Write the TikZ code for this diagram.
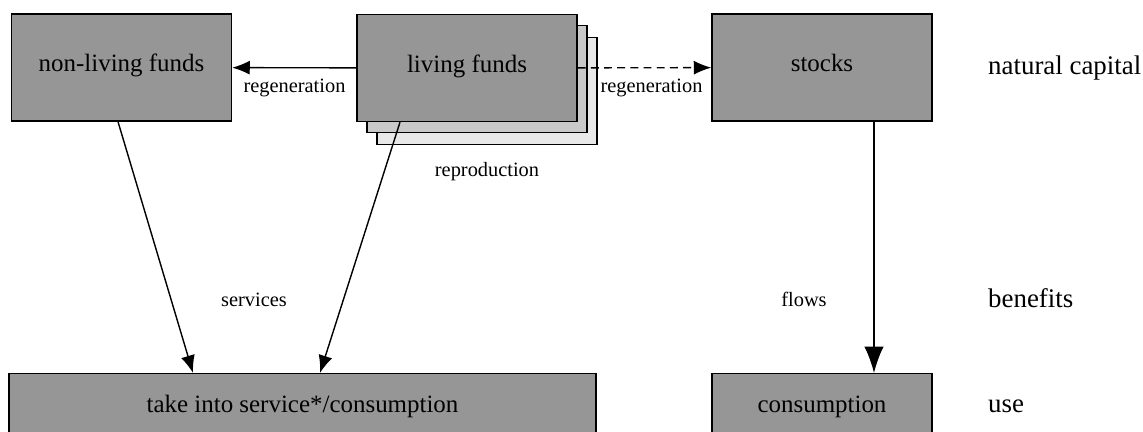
\documentclass[tikz,border=0pt]{standalone}
\usepackage{fontspec}
\setmainfont{Liberation Serif}
\usepackage{xcolor}
\usepackage{tikz}
\usetikzlibrary{arrows.meta,positioning,calc}

\definecolor{boxgray}{gray}{0.59}
\definecolor{shadegray}{gray}{0.79}
\definecolor{palegray}{gray}{0.91}

\begin{document}
\begin{tikzpicture}[
  x=0.02cm, y=-0.02cm,
  fund/.style={draw, line width=0.8pt, fill=boxgray, inner sep=0pt,
               minimum width=4.4cm, minimum height=2.14cm,
               font=\fontsize{14.2}{17}\selectfont,
               text height=0.7em, text depth=0.2em},
  sheet/.style={fund, fill=#1},
  usebox/.style={draw, line width=0.8pt, fill=boxgray, inner sep=0pt, anchor=north,
                 font=\fontsize{14.2}{17}\selectfont,
                 text height=0.78cm, text depth=2cm},
  small/.style={font=\fontsize{11.6}{14}\selectfont, anchor=base},
  level/.style={font=\fontsize{15.3}{18}\selectfont, anchor=base west},
  flow/.style={-{Latex[length=10pt, width=8pt]}, line width=0.8pt}
]
\path[use as bounding box, clip] (0,0) rectangle (1143,432);

% funds and stocks
\node[fund] (nonliv) at (121.5,67.5) {non-living funds};
\node[sheet=palegray] (liv3) at (487,91) {};
\node[sheet=shadegray] (liv2) at (477,79) {};
\node[fund] (liv) at (467,68) {living funds};
\node[fund] (stocks) at (822,67.5) {stocks};

% use
\node[usebox, minimum width=11.74cm] (take) at (302.5,373) {take into service*/consumption};
\node[usebox, minimum width=4.4cm] (cons) at (822,373) {consumption};

% connectors
\draw[flow] (liv) -- (nonliv);
\draw[flow, dash pattern=on 4.5pt off 3pt] (liv) -- (stocks);
\draw[flow] ($(nonliv.south)+(-3.5,0)$) -- ($(take.north)+(-109.5,0)$);
\draw[flow] ($(liv.south)+(-67,0)$) -- ($(take.north)+(17.5,0)$);
\draw[flow, -{Latex[length=15pt, width=11pt]}] ($(stocks.south)+(52,0)$) -- ($(cons.north)+(52,0)$);

% labels
\node[small] (regenl) at (294.5,93) {regeneration};
\node[small] (regenr) at (651.5,93) {regeneration};
\node[small] (repro) at (487,177) {reproduction};
\node[small] (serv) at (254,307) {services};
\node[small] (flows) at (804,307) {flows};

\node[level] (natcap) at (982,75) {natural capital};
\node[level] (benef) at (982,308) {benefits};
\node[level] (use) at (982,412) {use};
\end{tikzpicture}
\end{document}
